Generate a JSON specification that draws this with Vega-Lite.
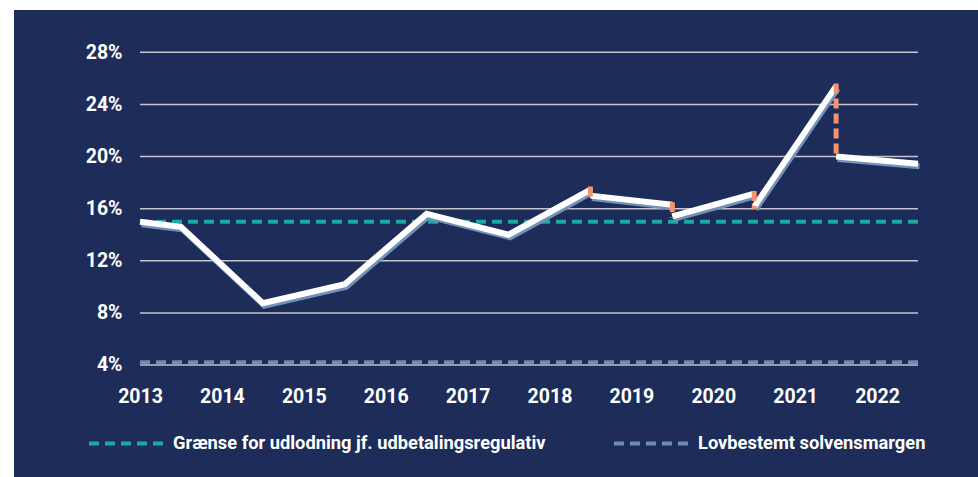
{
  "$schema": "https://vega.github.io/schema/vega-lite/v6.json",
  "autosize": {"type": "none"},
  "width": 964,
  "height": 467,
  "padding": {"left": 14, "top": 10, "right": 0, "bottom": 0},
  "background": "#ffffff",
  "config": {
    "view": {"fill": "#1d2c58", "stroke": null},
    "font": "Roboto",
    "axis": {"labelFont": "Roboto", "labelFontWeight": "bold", "labelColor": "#ffffff", "labelFontSize": 19.5, "ticks": false, "domain": false, "grid": false, "title": null},
    "legend": {"labelFont": "Roboto"}
  },
  "datasets": {
    "grid": [
      {"g": 4, "start": 2013, "end": 2022.5},
      {"g": 8, "start": 2013, "end": 2022.5},
      {"g": 12, "start": 2013, "end": 2022.5},
      {"g": 16, "start": 2013, "end": 2022.5},
      {"g": 20, "start": 2013, "end": 2022.5},
      {"g": 24, "start": 2013, "end": 2022.5},
      {"g": 28, "start": 2013, "end": 2022.5}
    ],
    "limits": [
      {"series": "Lovbestemt solvensmargen", "value": 4.22, "start": 2013, "end": 2022.5},
      {"series": "Grænse for udlodning jf. udbetalingsregulativ", "value": 15.0, "start": 2013, "end": 2022.5}
    ],
    "ratio": [
      {"seg": "A", "year": 2013, "v": 15.0},
      {"seg": "A", "year": 2013.5, "v": 14.6},
      {"seg": "A", "year": 2014.5, "v": 8.75},
      {"seg": "A", "year": 2015.5, "v": 10.2},
      {"seg": "A", "year": 2016.5, "v": 15.6},
      {"seg": "A", "year": 2017.5, "v": 14.0},
      {"seg": "A", "year": 2018.5, "v": 17.45},
      {"seg": "B", "year": 2018.5, "v": 17.0},
      {"seg": "B", "year": 2019.5, "v": 16.3},
      {"seg": "C", "year": 2019.5, "v": 15.4},
      {"seg": "C", "year": 2020.5, "v": 17.15},
      {"seg": "D", "year": 2020.5, "v": 16.15},
      {"seg": "D", "year": 2021.5, "v": 25.4},
      {"seg": "E", "year": 2021.5, "v": 20.0},
      {"seg": "E", "year": 2022.5, "v": 19.45}
    ],
    "steps": [
      {"year": 2018.5, "hi": 17.7, "lo": 16.9},
      {"year": 2019.5, "hi": 16.5, "lo": 15.3},
      {"year": 2020.5, "hi": 17.35, "lo": 16.0},
      {"year": 2021.5, "hi": 25.6, "lo": 19.95}
    ]
  },
  "layer": [
    {
      "data": {"name": "grid"},
      "mark": {"type": "rule", "color": "#c3c4cc", "strokeWidth": 1.5},
      "encoding": {
        "x": {"field": "start", "type": "quantitative", "title": null, "scale": {"domain": [2011.4613, 2023.2327], "nice": false, "zero": false},
              "axis": {"values": [2013, 2014, 2015, 2016, 2017, 2018, 2019, 2020, 2021, 2022], "format": "d", "offset": -90, "labelPadding": 0, "labelBaseline": "top", "labelFlush": false, "labelOverlap": false}},
        "x2": {"field": "end"},
        "y": {"field": "g", "type": "quantitative", "title": null, "scale": {"domain": [-4.596, 31.246], "nice": false, "zero": false},
              "axis": {"values": [4, 8, 12, 16, 20, 24, 28], "labelExpr": "datum.value + '%'", "offset": -126, "labelPadding": 18, "labelFlush": false, "labelOverlap": false}}
      }
    },
    {
      "data": {"name": "limits"},
      "mark": {"type": "rule", "strokeWidth": 4, "strokeDash": [10, 6]},
      "encoding": {
        "x": {"field": "start", "type": "quantitative", "title": null},
        "x2": {"field": "end"},
        "y": {"field": "value", "type": "quantitative", "title": null},
        "color": {
          "field": "series", "type": "nominal",
          "scale": {"domain": ["Grænse for udlodning jf. udbetalingsregulativ", "Lovbestemt solvensmargen"], "range": ["#1aa9a3", "#6e8db4"]},
          "legend": {
            "orient": "none", "legendX": 73, "legendY": 394, "direction": "horizontal", "title": null,
            "symbolType": "stroke", "symbolSize": 5625, "symbolStrokeWidth": 4, "symbolDash": [10, 6],
            "labelColor": "#ffffff", "labelFontSize": 18.3, "labelFontWeight": "bold", "labelOffset": 7,
            "labelLimit": 600, "columnPadding": 60, "padding": 0
          }
        }
      }
    },
    {
      "data": {"name": "ratio"},
      "mark": {"type": "line", "color": "#7391b8", "strokeWidth": 6, "xOffset": 1.5, "yOffset": 2.5, "strokeCap": "butt"},
      "encoding": {
        "x": {"field": "year", "type": "quantitative", "title": null},
        "y": {"field": "v", "type": "quantitative", "title": null},
        "detail": {"field": "seg"}
      }
    },
    {
      "data": {"name": "ratio"},
      "mark": {"type": "line", "color": "#ffffff", "strokeWidth": 6, "strokeCap": "butt"},
      "encoding": {
        "x": {"field": "year", "type": "quantitative", "title": null},
        "y": {"field": "v", "type": "quantitative", "title": null},
        "detail": {"field": "seg"}
      }
    },
    {
      "data": {"name": "steps"},
      "mark": {"type": "rule", "color": "#f5936a", "strokeWidth": 5, "strokeDash": [10, 5]},
      "encoding": {
        "x": {"field": "year", "type": "quantitative", "title": null},
        "y": {"field": "hi", "type": "quantitative", "title": null},
        "y2": {"field": "lo"}
      }
    }
  ]
}
